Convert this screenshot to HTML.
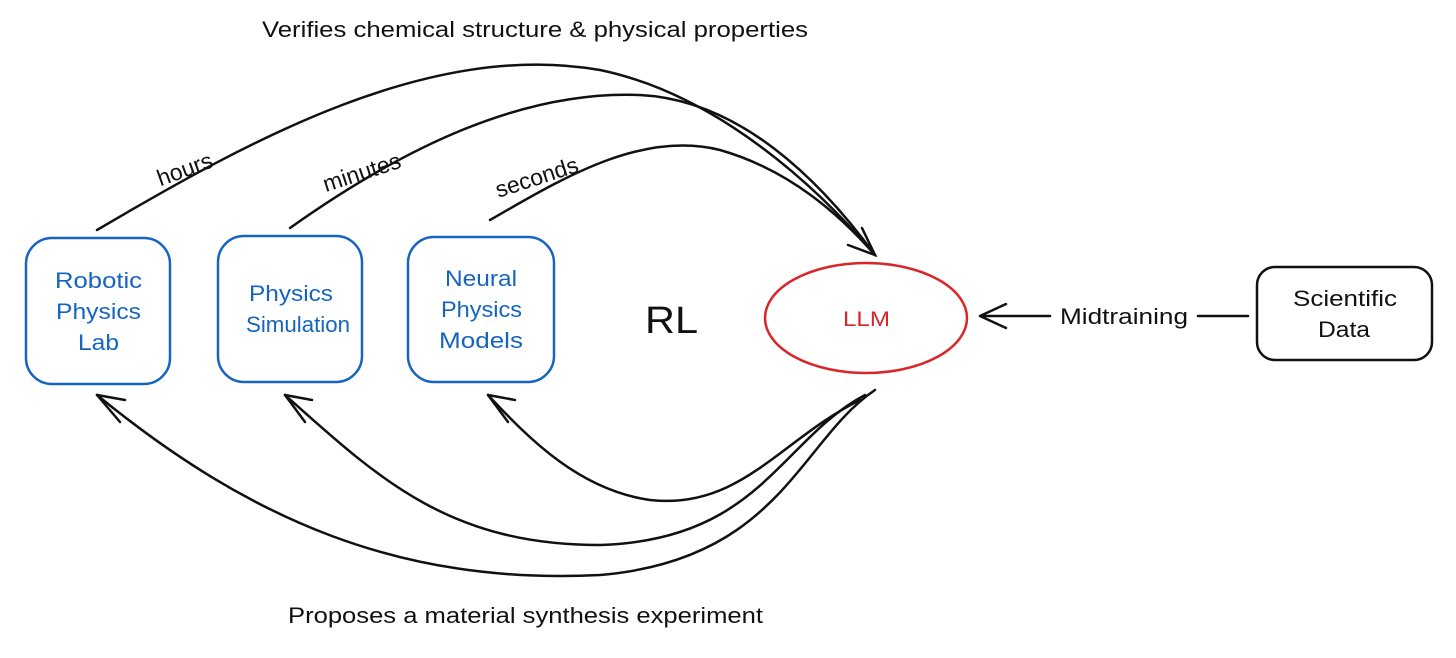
<!DOCTYPE html>
<html><head><style>
body{margin:0;background:#fff}
svg text{font-family:"Liberation Sans",sans-serif}
</style></head><body>
<svg width="1456" height="653" viewBox="0 0 1456 653" xmlns="http://www.w3.org/2000/svg">
<g fill="none" stroke-width="2.5" stroke-linecap="round">
<rect x="26" y="238" width="144" height="146" rx="26" stroke="#1565c0"/>
<rect x="218" y="236" width="144" height="146" rx="26" stroke="#1565c0"/>
<rect x="408" y="237" width="146" height="145" rx="26" stroke="#1565c0"/>
<ellipse cx="866" cy="318" rx="101" ry="55" stroke="#d9262a"/>
<rect x="1257" y="267" width="175" height="93" rx="18" stroke="#111"/>
<g stroke="#111">
<path d="M97 230 C250 140 430 40 600 70 C720 95 820 190 875 255"/>
<path d="M290 228 C400 150 520 90 640 95 C740 100 820 180 875 255"/>
<path d="M490 220 C560 180 640 130 720 150 C790 170 840 215 875 255"/>
<path d="M848 245 L875 255 L862 228"/>
<path d="M875 390 C800 440 780 560 600 575 C400 585 250 520 97 395"/>
<path d="M865 395 C780 440 760 540 600 545 C450 545 380 480 285 395"/>
<path d="M860 400 C780 440 740 510 650 500 C580 490 530 440 488 395"/>
<path d="M97 395 L125 400 M97 395 L120 422"/>
<path d="M285 395 L312 400 M285 395 L305 422"/>
<path d="M488 395 L515 400 M488 395 L508 422"/>
<path d="M1050 316 L980 316 M980 316 L1006 304 M980 316 L1006 328"/>
<path d="M1198 316 L1248 316"/>
</g>
</g>
<g font-size="22" fill="#1565c0">
<text x="55" y="288" textLength="87" lengthAdjust="spacingAndGlyphs">Robotic</text>
<text x="56" y="319" textLength="85" lengthAdjust="spacingAndGlyphs">Physics</text>
<text x="78" y="350" textLength="41" lengthAdjust="spacingAndGlyphs">Lab</text>
<text x="249" y="301" textLength="84" lengthAdjust="spacingAndGlyphs">Physics</text>
<text x="246" y="332" textLength="104" lengthAdjust="spacingAndGlyphs">Simulation</text>
<text x="445" y="286" textLength="72" lengthAdjust="spacingAndGlyphs">Neural</text>
<text x="441" y="317" textLength="81" lengthAdjust="spacingAndGlyphs">Physics</text>
<text x="439" y="348" textLength="84" lengthAdjust="spacingAndGlyphs">Models</text>
</g>
<text x="843" y="326" font-size="21" fill="#d9262a" textLength="47" lengthAdjust="spacingAndGlyphs">LLM</text>
<g font-size="22" fill="#111">
<text x="1293" y="306" textLength="104" lengthAdjust="spacingAndGlyphs">Scientific</text>
<text x="1318" y="337" textLength="52" lengthAdjust="spacingAndGlyphs">Data</text>
<text x="1060" y="324" textLength="128" lengthAdjust="spacingAndGlyphs">Midtraining</text>
<text x="645" y="333" font-size="38" textLength="53" lengthAdjust="spacingAndGlyphs">RL</text>
<text x="262" y="37" textLength="546" lengthAdjust="spacingAndGlyphs">Verifies chemical structure &amp; physical properties</text>
<text x="288" y="623" textLength="475" lengthAdjust="spacingAndGlyphs">Proposes a material synthesis experiment</text>
<text x="185" y="177" font-size="23" text-anchor="middle" transform="rotate(-20 185 170)">hours</text>
<text x="362" y="180" font-size="23" text-anchor="middle" transform="rotate(-18 362 173)">minutes</text>
<text x="537" y="185" font-size="23" text-anchor="middle" transform="rotate(-18 537 178)">seconds</text>
</g>
</svg>
</body></html>
